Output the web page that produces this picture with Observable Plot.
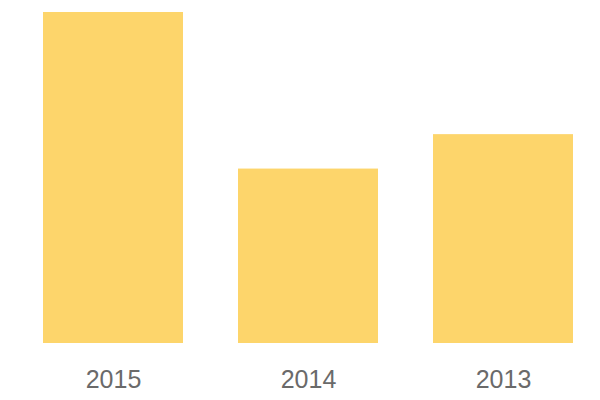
<!DOCTYPE html>
<html>
<head>
<meta charset="utf-8">
<script src="https://cdn.jsdelivr.net/npm/d3@7"></script>
<script src="https://cdn.jsdelivr.net/npm/@observablehq/plot@0.6"></script>
<style>
  html, body { margin: 0; padding: 0; background: #fff; }
  #chart svg { display: block; }
</style>
</head>
<body>
<div id="chart"></div>
<script>
const years = ["2015", "2014", "2013"];
const values = [100, 52.7, 63.1];

const data = years.map((y, i) => ({year: y, value: values[i]}));

const chart = Plot.plot({
  width: 600,
  height: 400,
  marginLeft: 43,
  marginRight: 27,
  marginTop: 12,
  marginBottom: 57,
  style: {fontFamily: "'Liberation Sans', Arial, sans-serif", background: "#fff"},
  x: {domain: years, paddingInner: 55 / 195, paddingOuter: 0, label: null},
  y: {domain: [0, d3.max(values)], axis: null},
  marks: [
    Plot.barY(data, {x: "year", y: "value", fill: "#fdd56b"}),
    Plot.axisX({tickSize: 0, tickPadding: 27, fontSize: 25, color: "#6a6a6a", label: null})
  ]
});
document.getElementById("chart").appendChild(chart);
</script>
</body>
</html>
